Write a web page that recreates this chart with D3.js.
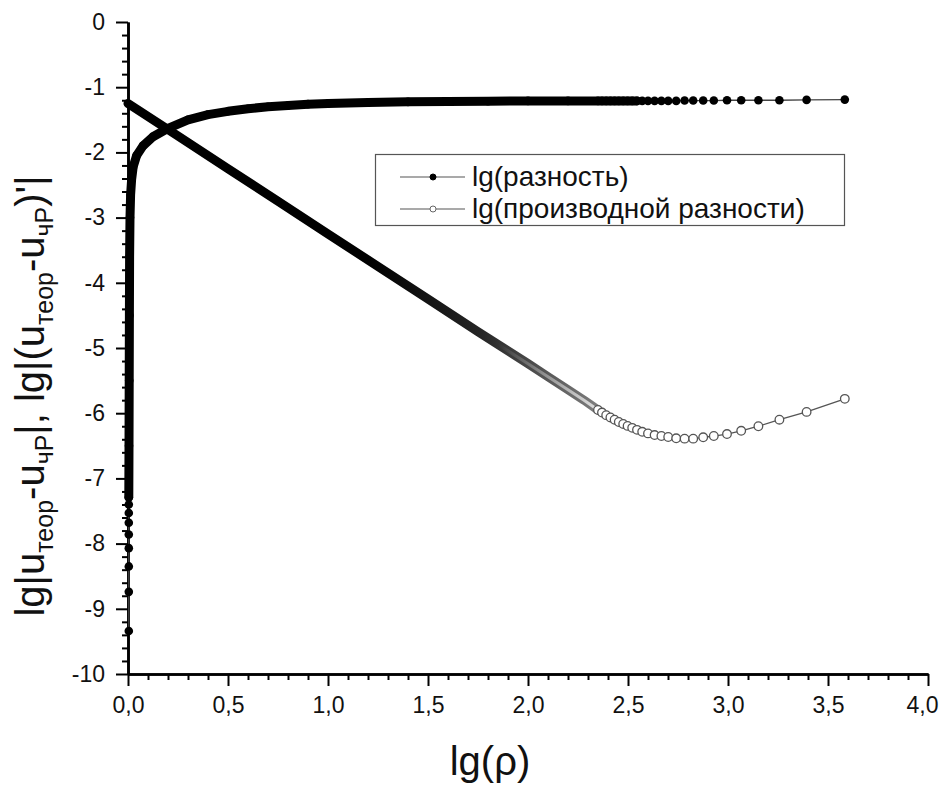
<!DOCTYPE html>
<html><head><meta charset="utf-8">
<script src="https://cdn.jsdelivr.net/npm/d3@7"></script>
<style>
body{margin:0;background:#fff}
svg{display:block}
text{font-family:"Liberation Sans",Arial,Helvetica,sans-serif}
</style>
</head><body>
<svg id="chart" width="942" height="787"></svg>
<script>
// ---- data ----
const seriesNames = ["lg(разность)", "lg(производной разности)"];

// series 1: lg(разность)  (filled markers)
const xDiff = [0.004,0.004,0.004,0.004,0.004,0.004,0.004,0.004,0.004,
  0.005,0.006,0.007,0.008,0.010,0.013,0.018,0.026,0.043,0.075,0.125,0.20,0.30,0.40,0.50,0.60,0.70,0.80,0.90,1.00,1.20,1.40,1.60,1.80,2.00,2.20,
  2.350,2.370,2.391,2.412,2.433,2.454,2.476,2.498,2.521,2.545,2.571,2.600,2.633,2.667,2.701,2.741,2.783,2.826,2.876,2.929,2.995,3.066,3.152,3.257,3.393,3.584];
const yDiff = [-9.34,-8.74,-8.35,-8.07,-7.86,-7.68,-7.53,-7.40,-7.29,
  -6.5,-5.5,-4.5,-3.6,-3.0,-2.65,-2.42,-2.22,-2.05,-1.90,-1.76,-1.63,-1.50,-1.42,-1.37,-1.33,-1.30,-1.28,-1.26,-1.25,-1.235,-1.225,-1.22,-1.215,-1.21,-1.21,
  -1.21,-1.21,-1.21,-1.21,-1.21,-1.21,-1.21,-1.21,-1.21,-1.21,-1.21,-1.21,-1.21,-1.21,-1.21,-1.21,-1.205,-1.205,-1.205,-1.205,-1.20,-1.20,-1.20,-1.20,-1.195,-1.19];

// series 2: lg(производной разности)  (open markers)
const xDeriv = [0.000,0.25,0.50,0.75,1.00,1.25,1.50,1.75,2.00,2.10,2.20,2.28,
  2.350,2.370,2.391,2.412,2.433,2.454,2.476,2.498,2.521,2.545,2.571,2.600,2.633,2.667,2.701,2.741,2.783,2.826,2.876,2.929,2.995,3.066,3.152,3.257,3.393,3.584];
const yDeriv = [-1.25,-1.75,-2.25,-2.75,-3.25,-3.75,-4.25,-4.75,-5.24,-5.44,-5.64,-5.80,
  -5.95,-5.99,-6.03,-6.065,-6.10,-6.135,-6.165,-6.195,-6.225,-6.255,-6.285,-6.31,-6.335,-6.35,-6.365,-6.385,-6.39,-6.39,-6.37,-6.35,-6.32,-6.27,-6.20,-6.10,-5.98,-5.78];

const xTickValues = [0,0.5,1,1.5,2,2.5,3,3.5,4];
const xTickLabels = ["0,0","0,5","1,0","1,5","2,0","2,5","3,0","3,5","4,0"];
const yTickValues = [0,-1,-2,-3,-4,-5,-6,-7,-8,-9,-10];
const yTickLabels = ["0","-1","-2","-3","-4","-5","-6","-7","-8","-9","-10"];

// ---- layout ----
const svg = d3.select("#chart");
const xScale = d3.scaleLinear().domain([0,4]).range([128,928]);
const yScale = d3.scaleLinear().domain([-10,0]).range([674,22]);

const xMinor = d3.range(0,4.0001,0.1).map(v=>+v.toFixed(2)).filter(v=>Math.abs(v*2-Math.round(v*2))>1e-6);
const yMinor = d3.range(-10,0.0001,0.2).map(v=>+v.toFixed(2)).filter(v=>Math.abs(v-Math.round(v))>1e-6);

function styleAxis(g){
  g.select(".domain").attr("stroke","#000").attr("stroke-width",2.6);
  g.selectAll(".tick line").attr("stroke","#000").attr("stroke-width",2);
  g.selectAll(".tick text").attr("fill","#111").style("font-size","23px").style("font-family",'"Liberation Sans",Arial,sans-serif');
}
const axisY = yScale(-10);
svg.append("g").attr("transform",`translate(0,${axisY})`)
  .call(d3.axisBottom(xScale).tickValues(xMinor).tickSize(6).tickFormat("").tickSizeOuter(0)).call(styleAxis);
const xMajor = svg.append("g").attr("transform",`translate(0,${axisY})`)
  .call(d3.axisBottom(xScale).tickValues(xTickValues).tickSize(12).tickPadding(11).tickSizeOuter(0)
    .tickFormat((d,i)=>xTickLabels[i])).call(styleAxis);
xMajor.selectAll(".tick text").filter(d=>d===4).attr("dx",-6);
svg.append("g").attr("transform",`translate(${xScale(0)},0)`)
  .call(d3.axisLeft(yScale).tickValues(yMinor).tickSize(6).tickFormat("").tickSizeOuter(0)).call(styleAxis);
svg.append("g").attr("transform",`translate(${xScale(0)},0)`)
  .call(d3.axisLeft(yScale).tickValues(yTickValues).tickSize(12).tickPadding(11).tickSizeOuter(0)
    .tickFormat((d,i)=>yTickLabels[i])).call(styleAxis);

// ---- gradients ----
const defs = svg.append("defs");
const g2 = defs.append("linearGradient").attr("id","band2").attr("gradientUnits","userSpaceOnUse")
  .attr("x1",xScale(1.2)).attr("x2",xScale(2.35)).attr("y1",0).attr("y2",0);
g2.append("stop").attr("offset",0).attr("stop-color","#000");
g2.append("stop").attr("offset",0.5).attr("stop-color","#262626");
g2.append("stop").attr("offset",1).attr("stop-color","#7e7e7e");
const w2 = defs.append("linearGradient").attr("id","inner2").attr("gradientUnits","userSpaceOnUse")
  .attr("x1",xScale(1.85)).attr("x2",xScale(2.35)).attr("y1",0).attr("y2",0);
w2.append("stop").attr("offset",0).attr("stop-color","#fff").attr("stop-opacity",0);
w2.append("stop").attr("offset",1).attr("stop-color","#fff").attr("stop-opacity",0.75);

const R = 4.3;
const line = d3.line().x(d=>xScale(d[0])).y(d=>yScale(d[1]));

// series 1
const s1 = xDiff.map((x,i)=>[x,yDiff[i]]);
const band1 = s1.filter((d,i)=>i>=8 && d[0]<=2.55);
svg.append("path").datum(s1).attr("d",line).attr("fill","none").attr("stroke","#444").attr("stroke-width",1.3);
svg.append("path").datum(band1).attr("d",line).attr("fill","none").attr("stroke","#000")
  .attr("stroke-width",9).attr("stroke-linecap","round").attr("stroke-linejoin","round");
svg.append("g").selectAll("circle").data(s1).join("circle")
  .attr("cx",d=>xScale(d[0])).attr("cy",d=>yScale(d[1])).attr("r",R).attr("fill","#000");

// series 2
const s2 = xDeriv.map((x,i)=>[x,yDeriv[i]]);
const band2 = s2.filter(d=>d[0]<=2.35);
svg.append("path").datum(band2).attr("d",line).attr("fill","none").attr("stroke","url(#band2)")
  .attr("stroke-width",9).attr("stroke-linecap","round").attr("stroke-linejoin","round");
svg.append("path").datum(band2.filter(d=>d[0]>=1.75)).attr("d",line).attr("fill","none").attr("stroke","url(#inner2)")
  .attr("stroke-width",3).attr("stroke-linecap","round");
svg.append("path").datum(s2.filter(d=>d[0]>=2.35)).attr("d",line).attr("fill","none").attr("stroke","#555").attr("stroke-width",1.3);
svg.append("g").selectAll("circle").data(s2.filter(d=>d[0]>=2.35)).join("circle")
  .attr("cx",d=>xScale(d[0])).attr("cy",d=>yScale(d[1])).attr("r",R)
  .attr("fill","#fff").attr("stroke","#555").attr("stroke-width",1.3);

// ---- legend ----
const lg = svg.append("g");
lg.append("rect").attr("x",375.5).attr("y",154.5).attr("width",469).attr("height",71)
  .attr("fill","#fff").attr("stroke","#555").attr("stroke-width",1.2);
[[177,true],[209,false]].forEach(([y,filled],i)=>{
  lg.append("line").attr("x1",400).attr("x2",465).attr("y1",y).attr("y2",y).attr("stroke","#555").attr("stroke-width",1.2);
  lg.append("circle").attr("cx",433).attr("cy",y).attr("r",3)
    .attr("fill",filled?"#000":"#fff").attr("stroke",filled?"#000":"#666").attr("stroke-width",1);
  lg.append("text").attr("x",472).attr("y",y+9).style("font-size","28px").attr("fill","#111").text(seriesNames[i]);
});

// ---- axis titles ----
svg.append("text").attr("x",490).attr("y",775).attr("text-anchor","middle")
  .style("font-size","40px").attr("fill","#111").text("lg(ρ)");

const yt = svg.append("text").attr("transform","translate(44,396) rotate(-90)")
  .attr("text-anchor","middle").style("font-size","40px").attr("fill","#111");
const parts = [["lg|u",0],["теор",1],["-u",0],["чР",1],["|, lg|(u",0],["теор",1],["-u",0],["чР",1],[")'|",0]];
let sub = false;
parts.forEach(([t,s])=>{
  const ts = yt.append("tspan").text(t);
  if(s){ ts.style("font-size","25px").attr("dy", sub?0:9); sub=true; }
  else { if(sub) ts.attr("dy",-9); sub=false; }
});
</script>
</body></html>
